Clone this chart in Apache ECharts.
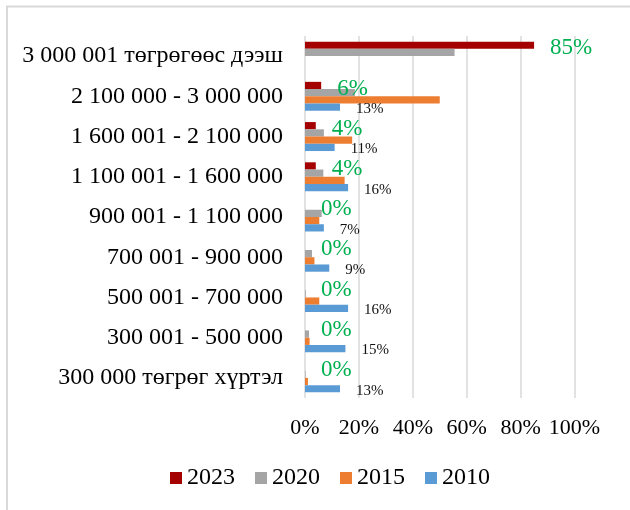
<!DOCTYPE html>
<html>
<head>
<meta charset="utf-8">
<script src="https://cdn.jsdelivr.net/npm/echarts@6/dist/echarts.min.js"></script>
<style>
  html, body { margin: 0; padding: 0; background: #fff; }
  #chart { width: 630px; height: 510px; }
</style>
</head>
<body>
<div id="chart"></div>
<script>
// Income brackets, bottom to top
const categories = [
  '300 000 төгрөг хүртэл',
  '300 001 - 500 000',
  '500 001 - 700 000',
  '700 001 - 900 000',
  '900 001 - 1 100 000',
  '1 100 001 - 1 600 000',
  '1 600 001 - 2 100 000',
  '2 100 000 - 3 000 000',
  '3 000 001 төгрөгөөс дээш'
];

// Share of households per bracket (%), same order as categories
const values2023 = [0, 0, 0, 0, 0, 4, 4, 6, 85];
const values2020 = [0.2, 1.5, 0.3, 2.6, 6.2, 6.8, 7, 18.5, 55.5];
const values2015 = [1.1, 1.7, 5.3, 3.5, 5.3, 14.7, 17.5, 50, null];
const values2010 = [13, 15, 16, 9, 7, 16, 11, 13, null];

const legendOrder = ['2023', '2020', '2015', '2010'];
const xTicks = { min: 0, max: 100, step: 20 };

const colors = {
  '2023': '#A50000',
  '2020': '#A5A5A5',
  '2015': '#ED7D31',
  '2010': '#5B9BD5'
};

const serif = 'Liberation Serif, Times New Roman, serif';

function barSeries(name, data, label) {
  return {
    name: name,
    type: 'bar',
    data: data,
    barGap: '0%',
    barCategoryGap: '28%',
    itemStyle: { color: colors[name] },
    label: label || { show: false },
    emphasis: { disabled: true }
  };
}

const chart = echarts.init(document.getElementById('chart'), null, { renderer: 'canvas' });

chart.setOption({
  animation: false,
  textStyle: { fontFamily: serif },
  grid: { left: 305, right: 55.5, top: 36, bottom: 112, containLabel: false },
  legend: {
    data: legendOrder,
    bottom: 15,
    left: 165,
    itemWidth: 12,
    itemHeight: 12,
    itemGap: 20,
    icon: 'rect',
    textStyle: { fontFamily: serif, fontSize: 24, color: '#000' }
  },
  xAxis: {
    type: 'value',
    min: xTicks.min,
    max: xTicks.max,
    interval: xTicks.step,
    axisLine: { show: false },
    axisTick: { show: false },
    axisLabel: {
      formatter: '{value}%',
      fontFamily: serif,
      fontSize: 22,
      color: '#000',
      margin: 19
    },
    splitLine: { show: true, lineStyle: { color: '#d9d9d9', width: 1.5 } }
  },
  yAxis: {
    type: 'category',
    data: categories,
    axisLine: { show: false },
    axisTick: { show: false },
    axisLabel: {
      fontFamily: serif,
      fontSize: 24,
      color: '#000',
      margin: 22
    }
  },
  // series drawn top-to-bottom inside each bracket: 2023, 2020, 2015, 2010
  series: [
    barSeries('2023', values2023, {
      show: true,
      position: 'right',
      distance: 16,
      offset: [0, 3],
      fontFamily: serif,
      fontSize: 23,
      color: '#00B050',
      formatter: p => Math.round(p.value) + '%'
    }),
    barSeries('2020', values2020),
    barSeries('2015', values2015),
    barSeries('2010', values2010, {
      show: true,
      position: 'right',
      distance: 16,
      offset: [0, 2],
      fontFamily: serif,
      fontSize: 15,
      color: '#111',
      formatter: p => Math.round(p.value) + '%'
    })
  ],
  graphic: [
    {
      type: 'polyline',
      shape: { points: [[7, 510], [7, 6.5], [630, 6.5]] },
      style: { stroke: '#d9d9d9', lineWidth: 2, fill: null },
      silent: true
    }
  ]
});
</script>
</body>
</html>
